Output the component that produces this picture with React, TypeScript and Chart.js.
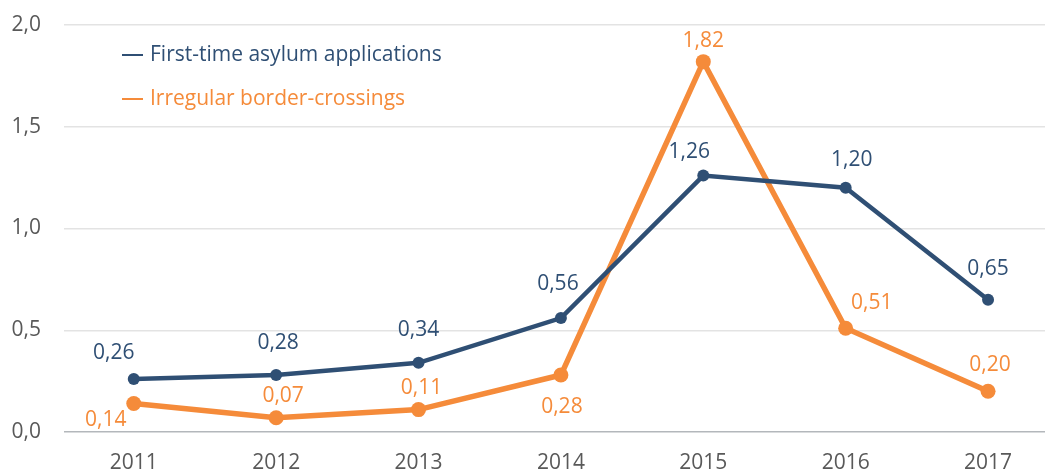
import React, { useEffect, useRef } from "react";
import { Chart, registerables } from "chart.js";

Chart.register(...registerables);

const years = ["2011", "2012", "2013", "2014", "2015", "2016", "2017"];
const asylumValues = [0.26, 0.28, 0.34, 0.56, 1.26, 1.2, 0.65];
const borderValues = [0.14, 0.07, 0.11, 0.28, 1.82, 0.51, 0.2];
const seriesNames = ["First-time asylum applications", "Irregular border-crossings"];
const yTicks = [0, 0.5, 1.0, 1.5, 2.0];

const BLUE = "#2f4f74";
const ORANGE = "#f58b3a";
const FONT = "'Open Sans', 'Noto Sans', sans-serif";
const FS = 21;

// label offsets (dx, dy) relative to each point
const asylumLabelOffsets = [[-20, -26], [2, -32], [0, -33], [-3, -34], [-14, -24], [6, -28], [0, -31]];
const borderLabelOffsets = [[-28, 17], [7, -22], [3, -22], [1, 32], [0, -21], [26, -25], [2, -26]];

const fmt = (v: number, d: number) => v.toFixed(d).replace(".", ",");

export default function App() {
  const ref = useRef<HTMLCanvasElement | null>(null);
  useEffect(() => {
    const canvas = ref.current!;
    const labelPlugin = {
      id: "labels",
      afterDatasetsDraw(chart: any) {
        const ctx = chart.ctx;
        ctx.save();
        ctx.font = `${FS}px ${FONT}`;
        ctx.textAlign = "center";
        ctx.textBaseline = "middle";
        const offsets = [asylumLabelOffsets, borderLabelOffsets];
        chart.data.datasets.forEach((ds: any, di: number) => {
          const meta = chart.getDatasetMeta(di);
          ctx.fillStyle = ds.borderColor;
          meta.data.forEach((pt: any, i: number) => {
            const [dx, dy] = offsets[di][i];
            ctx.fillText(fmt(ds.data[i].y, 2), pt.x + dx, pt.y + dy);
          });
        });
        // legend
        const legendYs = [55, 99];
        chart.data.datasets.forEach((ds: any, di: number) => {
          const y = legendYs[di];
          ctx.strokeStyle = ds.borderColor;
          ctx.lineWidth = 2;
          ctx.beginPath();
          ctx.moveTo(122, y);
          ctx.lineTo(143, y);
          ctx.stroke();
          ctx.fillStyle = ds.borderColor;
          ctx.textAlign = "left";
          ctx.fillText(seriesNames[di], 150, y);
        });
        ctx.restore();
      },
    };
    const chart = new Chart(canvas, {
      type: "line",
      data: {
        datasets: [
          {
            label: seriesNames[0],
            data: asylumValues.map((v, i) => ({ x: i, y: v })),
            borderColor: BLUE,
            backgroundColor: BLUE,
            borderWidth: 4.5,
            pointRadius: 6,
            pointBorderWidth: 0,
            pointBackgroundColor: BLUE,
            tension: 0,
          },
          {
            label: seriesNames[1],
            data: borderValues.map((v, i) => ({ x: i, y: v })),
            borderColor: ORANGE,
            backgroundColor: ORANGE,
            borderWidth: 5.5,
            pointRadius: 7.5,
            pointBorderWidth: 0,
            pointBackgroundColor: ORANGE,
            tension: 0,
          },
        ],
      },
      options: {
        animation: false,
        responsive: false,
        layout: { autoPadding: false, padding: { top: 25, right: 0, left: 0, bottom: 0 } },
        plugins: { legend: { display: false }, tooltip: { enabled: false } },
        scales: {
          x: {
            type: "linear",
            min: -0.49,
            max: 6.4,
            grid: { display: false, drawTicks: false },
            border: { display: false },
            afterFit: (s: any) => {
              s.height = 40;
              s.paddingLeft = 0;
              s.paddingRight = 0;
            },
            ticks: {
              stepSize: 1,
              includeBounds: false,
              autoSkip: false,
              maxRotation: 0,
              padding: 18,
              color: "#595959",
              font: { family: FONT, size: FS },
              callback: (v: any) => (Number.isInteger(v) && years[v] ? years[v] : ""),
            },
          },
          y: {
            min: 0,
            max: 2,
            afterBuildTicks: (s: any) => {
              s.ticks = yTicks.map((v) => ({ value: v }));
            },
            afterFit: (s: any) => {
              s.width = 64;
              s.paddingTop = 0;
              s.paddingBottom = 0;
            },
            border: { display: false },
            grid: {
              drawTicks: false,
              lineWidth: 1.5,
              color: (c: any) => (c.tick && c.tick.value === 0 ? "#b3b7bb" : "#e3e3e3"),
            },
            ticks: {
              padding: 23,
              color: "#595959",
              font: { family: FONT, size: FS },
              callback: (v: any) => fmt(Number(v), 1),
            },
          },
        },
      },
      plugins: [labelPlugin],
    });
    return () => chart.destroy();
  }, []);
  return (
    <div style={{ position: "absolute", left: 0, top: 0, width: 1045, height: 472, background: "#fff" }}>
      <canvas ref={ref} width={1045} height={472} />
    </div>
  );
}
